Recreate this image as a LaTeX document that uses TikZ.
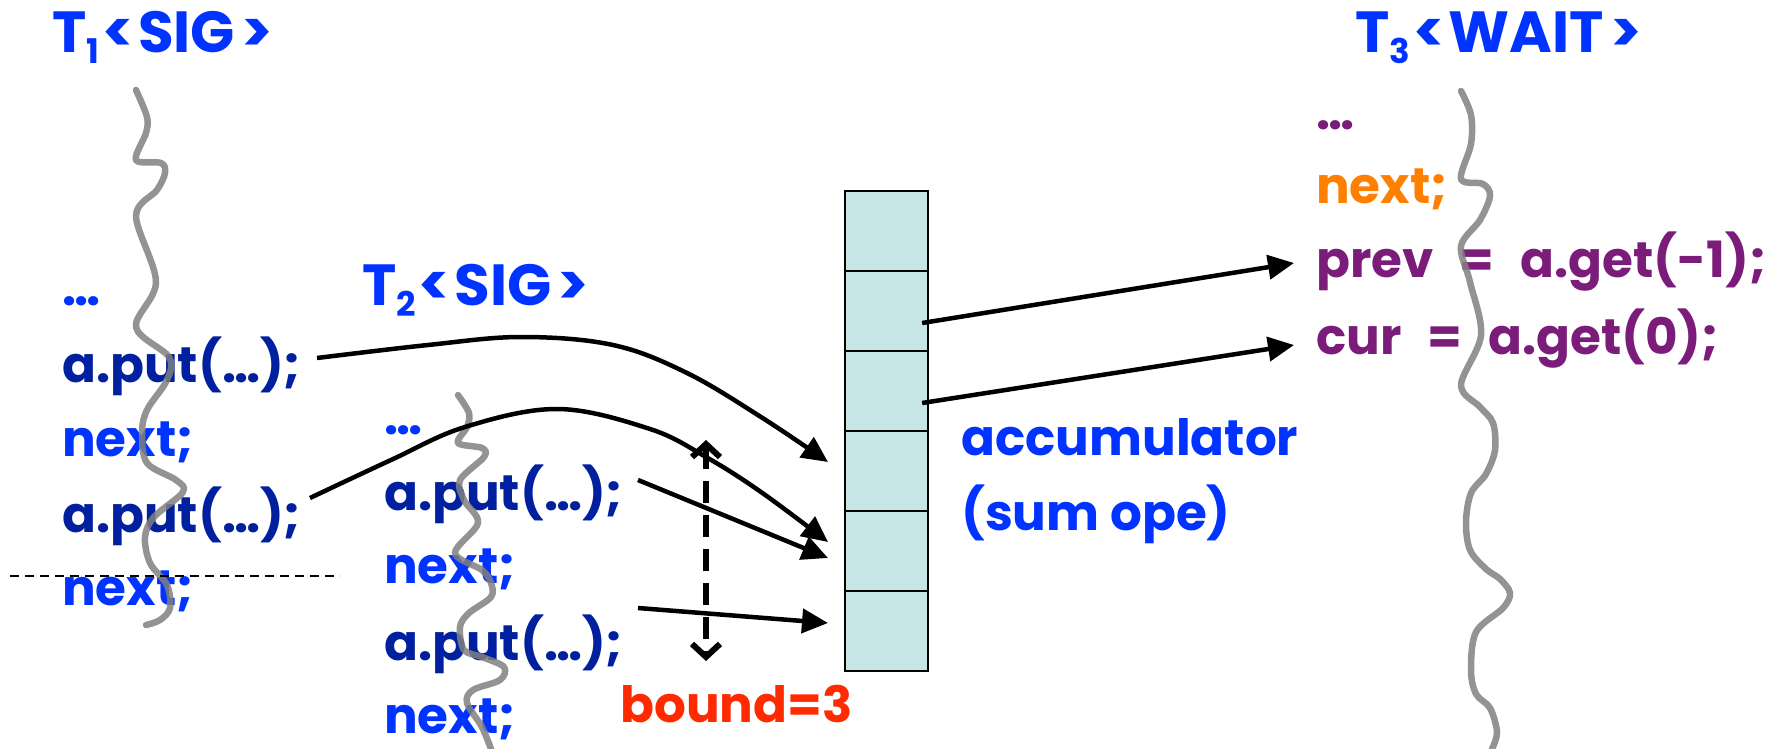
\documentclass[tikz,border=0pt]{standalone}
\usepackage{fontspec}
\setmainfont{Poppins}
\usetikzlibrary{arrows.meta,calc}
\definecolor{tblue}{HTML}{0033FF}
\definecolor{navy}{HTML}{00209F}
\definecolor{purp}{HTML}{7B1B7A}
\definecolor{orng}{HTML}{FF7F00}
\definecolor{bred}{HTML}{FF2A00}
\definecolor{cellfill}{HTML}{C5E5E7}
\definecolor{thrgray}{HTML}{808080}
\newcommand\codefont{\fontsize{50}{60}\selectfont\bfseries}
\newcommand\ttlfont{\fontsize{58}{64}\selectfont\bfseries}
\newcommand\subdig[1]{\raisebox{-11pt}{\fontsize{34}{34}\selectfont #1}}
\newcommand\wsp{\hspace{26pt}}
\newcommand\lt{\kern3pt<\kern4pt}
\newcommand\gt{\kern6pt>}
\begin{document}
\begin{tikzpicture}[x=1pt,y=-1pt,
  code/.style={anchor=base west, inner sep=0pt, font=\codefont},
  ttl/.style={anchor=base west, inner sep=0pt, font=\ttlfont, text=tblue},
  thread/.style={draw=thrgray, line width=6.5pt, line cap=round, line join=round, opacity=0.85},
  conn/.style={line width=4.5pt, -{Triangle[length=26pt,width=24pt]}},
  bnd/.style={line width=6pt, dash pattern=on 22pt off 12pt, {Straight Barb[length=13pt,width=28pt]}-{Straight Barb[length=13pt,width=28pt]}},
  cell/.style={draw=black, line width=2.2pt, fill=cellfill, minimum width=83pt, minimum height=80pt, inner sep=0pt},
  sep/.style={line width=2pt, dash pattern=on 9pt off 6pt}]
\useasboundingbox (0,0) rectangle (1779,749);

% accumulator
\foreach \i in {1,...,6}{
  \node[cell] (c\i) at (886.5,{151+80*\i}) {};
}

% titles
\node[ttl] (t1title) at (52,53) {T\subdig{1}\lt SIG\gt};
\node[ttl] (t2title) at (362,305) {T\subdig{2}\lt SIG\gt};
\node[ttl] (t3title) at (1355,53) {T\subdig{3}\lt WAIT\gt};

% T1 code
\node[code,text=tblue] (t1dots) at (62,305) {…};
\node[code,text=navy] (t1put1) at (62,382) {a.put(…);};
\node[code,text=tblue] (t1next1) at (62,456) {next;};
\node[code,text=navy] (t1put2) at (62,532) {a.put(…);};
\node[code,text=tblue] (t1next2) at (62,605) {next;};

% T2 code
\node[code,text=tblue] (t2dots) at (384,434) {…};
\node[code,text=navy] (t2put1) at (384,510) {a.put(…);};
\node[code,text=tblue] (t2next1) at (384,583) {next;};
\node[code,text=navy] (t2put2) at (384,660) {a.put(…);};
\node[code,text=tblue] (t2next2) at (384,733) {next;};

% T3 code
\node[code,text=purp] (t3dots) at (1316,129) {…};
\node[code,text=orng] (t3next) at (1316,203) {next;};
\node[code,text=purp] (t3prev) at (1316,277) {prev\wsp=\wsp a.get(-1);};
\node[code,text=purp] (t3cur) at (1316,354) {cur\wsp=\wsp a.get(0);};

% labels
\node[code,text=tblue] (acc) at (961,455) {accumulator};
\node[code,text=tblue] (sumope) at (961,530) {(sum ope)};
\node[code,text=bred] (bound) at (620,722) {bound=3};

% threads
\draw[thread] plot[smooth,tension=0.55] coordinates {(136,90) (147,117) (146,133) (136,160) (161,163) (165,173) (157,190) (136,216) (156,282) (136,327) (169,357) (167,380) (147,410) (142,433) (147,463) (176,480) (183,492) (154,517) (145,537) (150,563) (167,585) (170,608) (160,620) (146,625)};
\draw[thread] plot[smooth,tension=0.55] coordinates {(458,395) (469,413) (467,427) (458,443) (482,448) (484,457) (460,480) (464,500) (478,523) (455,553) (482,570) (491,583) (491,597) (469,613) (460,627) (464,650) (482,657) (504,667) (500,680) (473,690) (467,703) (482,727) (491,749)};
\draw[thread] plot[smooth,tension=0.55] coordinates {(1461,91) (1471,115) (1471,144) (1461,179) (1483,184) (1490,196) (1480,220) (1461,246) (1470,282) (1481,335) (1461,385) (1480,407) (1493,423) (1495,450) (1486,474) (1471,493) (1466,522) (1470,550) (1486,569) (1500,579) (1510,593) (1503,608) (1476,632) (1471,670) (1476,694) (1490,708) (1497,732) (1492,749)};

% connector end points
\coordinate (s1) at (317,358);
\coordinate (s2) at (310,498);
\coordinate (s3) at (638,480);
\coordinate (s4) at (638,608);
\coordinate (e1) at (828,462);
\coordinate (e2) at (828,542);
\coordinate (e3) at (828,558);
\coordinate (e4) at (828,623);
\coordinate (g1) at (1294,263);
\coordinate (g2) at (1294,345);
\coordinate (b1) at (706,440);
\coordinate (b2) at (706,661);
\coordinate (h1) at (10,576);
\coordinate (h2) at (340,576);

% connectors
\draw[conn] plot[smooth,tension=0.6] coordinates {(s1) (428,345) (521,337) (613,345) (687,373) (761,417) (e1)};
\draw[conn] plot[smooth,tension=0.6] coordinates {(s2) (391,460) (465,427) (558,409) (650,429) (706,457) (761,492) (e2)};
\draw[conn] (s3) -- (e3);
\draw[conn] (s4) -- (e4);
\draw[conn] ($(c2.east)+(-7,12)$) -- (g1);
\draw[conn] ($(c3.east)+(-7,12)$) -- (g2);
\draw[bnd] (b1) -- (b2);
\draw[sep] (h1) -- (h2);
\end{tikzpicture}
\end{document}
